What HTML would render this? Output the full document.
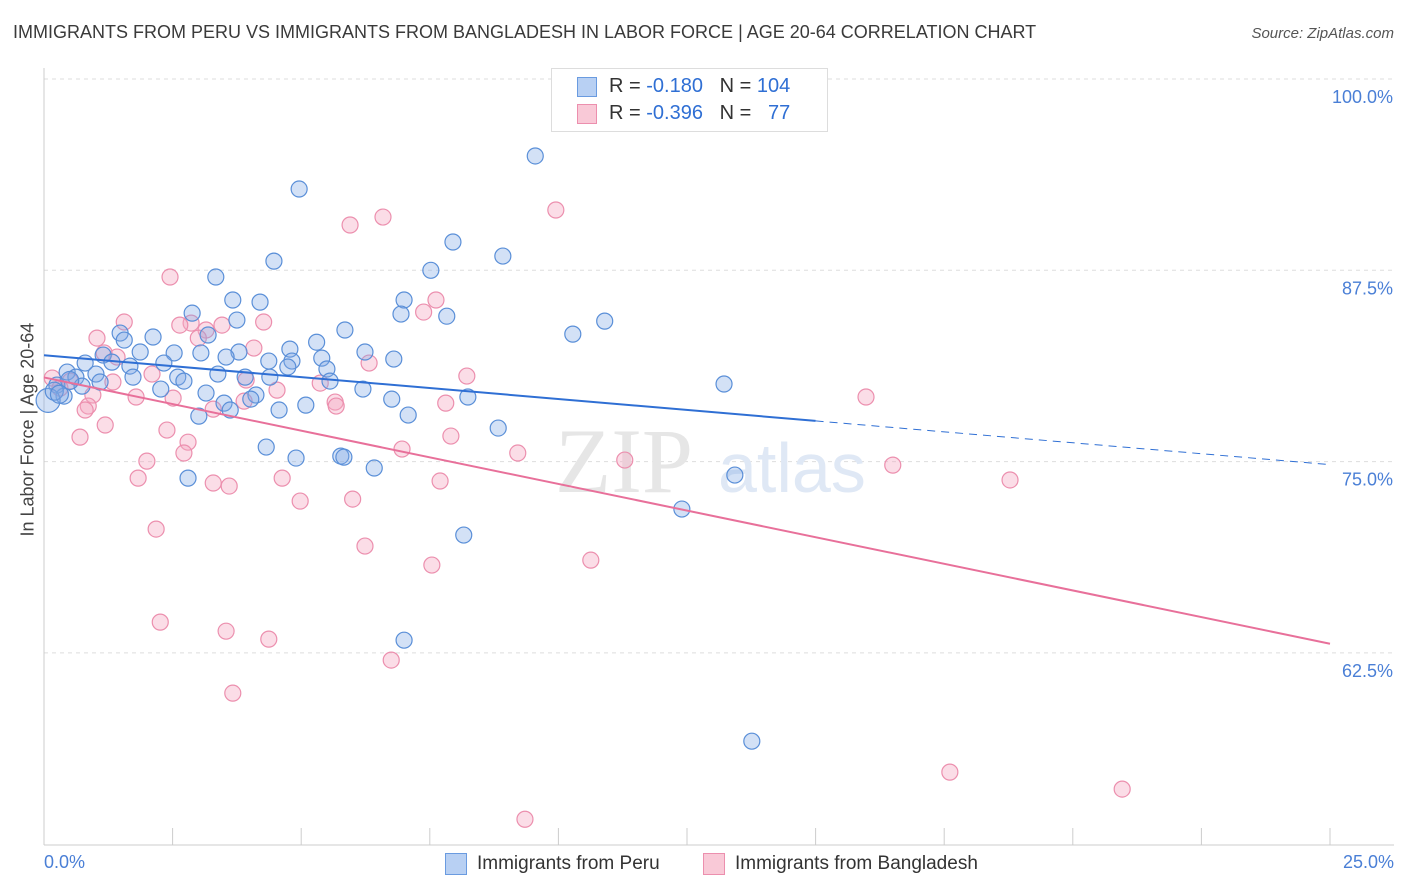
<!DOCTYPE html>
<html><head><meta charset="utf-8">
<style>
body{margin:0;background:#fff;font-family:"Liberation Sans",sans-serif;}
#wrap{position:relative;width:1406px;height:892px;overflow:hidden;}
.t{position:absolute;white-space:nowrap;}
</style></head>
<body>
<div id="wrap">
<div class="t" style="left:13px;top:22px;font-size:18px;color:#3a3a3a;">IMMIGRANTS FROM PERU VS IMMIGRANTS FROM BANGLADESH IN LABOR FORCE | AGE 20-64 CORRELATION CHART</div>
<div class="t" style="right:12px;top:25px;font-size:15px;color:#555;font-style:italic;">Source: ZipAtlas.com</div>
<svg id="svg" width="1406" height="892" style="position:absolute;left:0;top:0"></svg>
</div>
<script>
const xTicks=[0,2.5,5,7.5,10,12.5,15,17.5,20,22.5,25];
const yTicks=[100,87.5,75,62.5];
const yTickLabels=["100.0%","87.5%","75.0%","62.5%"];
const peruX=[9.55,4.96,7.95,8.92,4.47,7.52,3.34,3.67,4.2,7.0,2.88,6.94,7.83,3.75,10.9,10.28,5.85,1.48,2.12,3.19,1.56,5.3,4.78,6.24,3.79,2.53,3.05,1.15,1.87,3.54,4.37,4.82,5.4,6.8,1.32,2.33,0.8,1.67,4.74,5.5,0.45,1.01,3.38,1.73,2.6,4.39,3.91,0.62,5.56,2.72,1.09,0.25,0.74,13.22,2.27,6.2,3.15,4.12,8.24,0.39,6.76,4.02,3.5,5.09,4.57,3.62,3.01,7.08,8.83,4.32,4.9,5.77,5.83,6.42,13.43,2.8,12.4,8.16,7.0,13.76,0.08,0.2,0.5,0.3];
const peruY=[94.97,92.81,89.35,88.43,88.1,87.5,87.06,85.56,85.42,85.56,84.7,84.64,84.5,84.25,84.18,83.33,83.6,83.4,83.14,83.27,82.94,82.8,82.35,82.16,82.16,82.1,82.1,81.96,82.16,81.83,81.57,81.57,81.76,81.7,81.5,81.44,81.44,81.24,81.18,81.05,80.85,80.72,80.72,80.52,80.52,80.52,80.52,80.52,80.26,80.26,80.2,80.0,79.93,80.07,79.74,79.74,79.48,79.35,79.22,79.28,79.08,79.08,78.82,78.69,78.37,78.37,77.97,78.04,77.19,75.95,75.23,75.36,75.29,74.58,74.12,73.92,71.9,70.2,63.33,56.73,79.0,79.6,80.3,79.4];
const bangX=[9.95,6.59,5.95,2.45,7.62,7.38,4.27,1.56,2.86,2.64,3.46,3.15,1.03,3.0,4.08,1.17,1.42,6.32,8.22,2.1,3.93,5.37,0.16,0.51,1.34,0.31,4.53,1.79,0.95,2.51,15.98,3.89,5.66,5.68,7.81,0.86,3.29,0.8,1.19,2.39,7.91,0.7,2.8,6.96,9.21,2.72,2.0,11.29,16.5,1.83,4.63,7.7,18.78,3.29,3.6,6.0,4.98,2.18,6.24,10.63,7.54,2.26,3.54,4.37,6.75,3.67,17.61,20.96,9.35];
const bangY=[91.44,90.98,90.46,87.06,85.56,84.77,84.12,84.12,84.05,83.92,83.92,83.6,83.07,83.07,82.42,82.1,81.83,81.44,80.59,80.72,80.33,80.13,80.46,80.26,80.2,79.8,79.67,79.22,79.35,79.15,79.22,78.95,78.89,78.63,78.82,78.63,78.43,78.37,77.39,77.06,76.67,76.6,76.27,75.82,75.56,75.56,75.03,75.1,74.77,73.92,73.92,73.73,73.8,73.6,73.4,72.55,72.42,70.59,69.48,68.56,68.24,64.51,63.92,63.4,62.03,59.87,54.71,53.6,51.63];
const peruTrend=[81.95,74.8];
const bangTrend=[80.5,63.1];

const X=v=>44+v/25*1286;
const Y=v=>79+(100-v)/12.5*191.3;
const svg=document.getElementById('svg');
const NS='http://www.w3.org/2000/svg';
function mk(tag,attrs){const e=document.createElementNS(NS,tag);for(const k in attrs)e.setAttribute(k,attrs[k]);svg.appendChild(e);return e;}

yTicks.forEach((v,i)=>{
  const g=mk('line',{x1:44,x2:1394,y1:Y(v),y2:Y(v),stroke:'#ddd','stroke-dasharray':'4,4'});
  
  
  const t=mk('text',{x:1393,y:Y(v)+24,'text-anchor':'end','font-size':'18',fill:'#4a7fd6','font-family':'Liberation Sans, sans-serif'});
  t.textContent=yTickLabels[i];
  
  
});
const ax=mk('line',{x1:44,x2:1394,y1:845,y2:845,stroke:'#ccc'});


const ay=mk('line',{x1:44,x2:44,y1:68,y2:845,stroke:'#ccc'});


xTicks.forEach(v=>{
  const l=mk('line',{x1:X(v),x2:X(v),y1:828,y2:845,stroke:'#ccc'});
  
  
});
// watermark
const wm=mk('text',{x:555,y:492,'font-size':'92','font-family':'Liberation Serif, serif',fill:'#e6e6e6'});
wm.textContent='ZIP';


const wm2=mk('text',{x:718,y:492,'font-size':'70','font-family':'Liberation Sans, sans-serif',fill:'#dfe8f5'});
wm2.textContent='atlas';



bangX.forEach((x,i)=>{
  const c=mk('circle',{cx:X(x),cy:Y(bangY[i]),r:8,fill:'rgba(244,170,195,0.4)',stroke:'#ec8fae','stroke-width':1.2});
  
  
});
peruX.forEach((x,i)=>{
  const c=mk('circle',{cx:X(x),cy:Y(peruY[i]),r:i>=80?(i==80?12:9):8,fill:'rgba(130,170,230,0.35)',stroke:'#5a8fd8','stroke-width':1.2});
  
  
});
// trend lines
const pm=15;
const pyAt=v=>peruTrend[0]+(peruTrend[1]-peruTrend[0])*v/25;
const l1=mk('line',{x1:X(0),y1:Y(pyAt(0)),x2:X(pm),y2:Y(pyAt(pm)),stroke:'#2f6fd4','stroke-width':2});


const l2=mk('line',{x1:X(pm),y1:Y(pyAt(pm)),x2:X(25),y2:Y(pyAt(25)),stroke:'#2f6fd4','stroke-width':1,'stroke-dasharray':'8,6'});


const l3=mk('line',{x1:X(0),y1:Y(bangTrend[0]),x2:X(25),y2:Y(bangTrend[1]),stroke:'#e8709a','stroke-width':2});


</script>
<div class="t" style="left:-52px;top:446px;font-size:18px;color:#444;transform:rotate(-90deg);transform-origin:center;width:160px;text-align:center;">In Labor Force | Age 20-64</div>
<div class="t" style="left:44px;top:852px;font-size:18px;color:#4a7fd6;">0.0%</div>
<div class="t" style="right:12px;top:852px;font-size:18px;color:#4a7fd6;">25.0%</div>
<div style="position:absolute;left:551px;top:68px;width:275px;height:62px;border:1px solid #ddd;background:#fff;font-size:20px;color:#333;">
  <div style="position:absolute;left:25px;top:8px;width:18px;height:18px;background:#b8d0f3;border:1px solid #6a9be0;"></div>
  <div class="t" style="left:57px;top:6px;">R = <span style="color:#2f6fd4">-0.180</span>&nbsp;&nbsp;&nbsp;N = <span style="color:#2f6fd4">104</span></div>
  <div style="position:absolute;left:25px;top:35px;width:18px;height:18px;background:#f9c9d7;border:1px solid #ec8fae;"></div>
  <div class="t" style="left:57px;top:33px;">R = <span style="color:#2f6fd4">-0.396</span>&nbsp;&nbsp;&nbsp;N = &nbsp;&nbsp;<span style="color:#2f6fd4">77</span></div>
</div>
<div style="position:absolute;left:445px;top:853px;">
  <div style="position:absolute;left:0;top:0;width:20px;height:20px;background:#b8d0f3;border:1px solid #6a9be0;"></div>
  <div class="t" style="left:32px;top:0;font-size:19px;color:#333;">Immigrants from Peru</div>
</div>
<div style="position:absolute;left:703px;top:853px;">
  <div style="position:absolute;left:0;top:0;width:20px;height:20px;background:#f9c9d7;border:1px solid #ec8fae;"></div>
  <div class="t" style="left:32px;top:0;font-size:19px;color:#333;">Immigrants from Bangladesh</div>
</div>
</body></html>
